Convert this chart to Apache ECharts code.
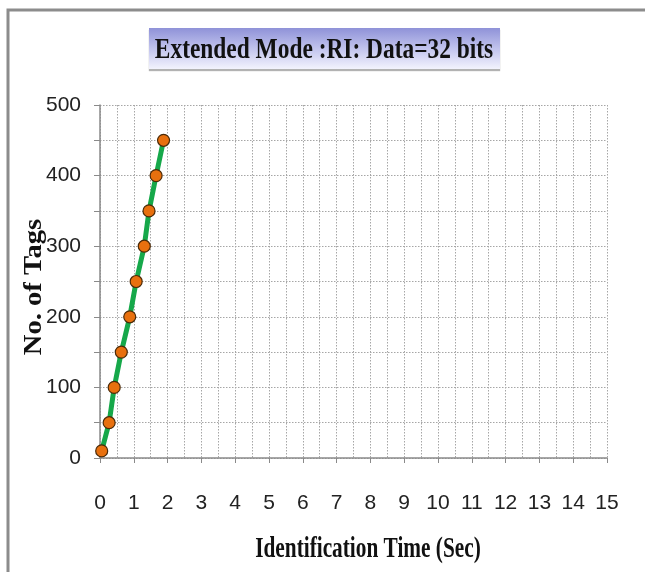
<!DOCTYPE html>
<html>
<head>
<meta charset="utf-8">
<title>Extended Mode :RI: Data=32 bits</title>
<script src="https://cdn.jsdelivr.net/npm/echarts@6/dist/echarts.min.js"></script>
<style>
  html, body { margin: 0; padding: 0; background: #fff; }
  #chart { width: 645px; height: 572px; }
</style>
</head>
<body>
<div id="chart"></div>
<script>
// values
var timeSec = [0.05, 0.27, 0.42, 0.63, 0.88, 1.07, 1.31, 1.45, 1.66, 1.88];
var tags = [10, 50, 100, 150, 200, 250, 300, 350, 400, 450];
var yTickLabels = [0, 100, 200, 300, 400, 500];
var xTickLabels = [0, 1, 2, 3, 4, 5, 6, 7, 8, 9, 10, 11, 12, 13, 14, 15];

var titleText = 'Extended Mode :RI: Data=32 bits';
var xName = 'Identification Time (Sec)';
var yName = 'No. of Tags';

var tickFont = "'Liberation Sans', sans-serif";
var serifFont = "'Liberation Serif', 'DejaVu Serif', serif";

var points = timeSec.map(function (t, i) { return [t, tags[i]]; });

var chart = echarts.init(document.getElementById('chart'));

var dotted = { color: '#a6a6a6', type: [1.5, 1.5], width: 1 };

var options = {
  animation: false,
  grid: {
    left: 100,
    right: 38,
    top: 105,
    bottom: 114
  },
  xAxis: {
    type: 'value',
    min: 0,
    max: 15,
    interval: 1,
    axisLine: { show: true, onZero: false, lineStyle: { color: '#8a8a8a', width: 1.5 } },
    axisTick: { show: true, inside: false, length: 5, lineStyle: { color: '#8a8a8a' } },
    axisLabel: {
      margin: 35,
      color: '#222',
      fontSize: 21,
      fontFamily: tickFont,
      formatter: function (v) {
        return xTickLabels.indexOf(v) >= 0 ? String(v) : '';
      }
    },
    splitLine: { show: true, lineStyle: dotted },
    minorTick: { show: false, splitNumber: 2 },
    minorSplitLine: { show: true, lineStyle: dotted }
  },
  yAxis: {
    type: 'value',
    min: 0,
    max: 500,
    interval: 50,
    axisLine: { show: true, lineStyle: { color: '#8a8a8a', width: 1.5 } },
    axisTick: { show: true, inside: false, length: 6, lineStyle: { color: '#8a8a8a' } },
    axisLabel: {
      margin: 19,
      color: '#222',
      fontSize: 21,
      fontFamily: tickFont,
      formatter: function (v) {
        return yTickLabels.indexOf(v) >= 0 ? String(v) : '';
      }
    },
    splitLine: { show: true, lineStyle: dotted }
  },
  series: [{
    type: 'line',
    data: points,
    symbol: 'circle',
    symbolSize: 12,
    lineStyle: { color: '#16a84a', width: 5 },
    itemStyle: { color: '#e8700e', borderColor: '#4a2a08', borderWidth: 1.2 },
    z: 3
  }],
  graphic: [
    // outer frame
    {
      type: 'polyline',
      shape: { points: [[8, 572], [8, 10], [645, 10]] },
      style: { stroke: '#8c8c8c', lineWidth: 3, fill: null },
      silent: true
    },
    // title box
    {
      type: 'rect',
      shape: { x: 149, y: 28, width: 351, height: 41 },
      style: {
        fill: new echarts.graphic.LinearGradient(0, 0, 0, 1, [
          { offset: 0, color: '#8f92d8' },
          { offset: 0.55, color: '#c6c8ef' },
          { offset: 1, color: '#f3f3fd' }
        ]),
        shadowColor: 'rgba(0,0,0,0.3)',
        shadowBlur: 1,
        shadowOffsetX: 0,
        shadowOffsetY: 2
      },
      silent: true
    },
    {
      type: 'text',
      x: 324,
      y: 50,
      scaleX: 0.78,
      style: {
        text: titleText,
        fontSize: 30,
        fontWeight: 'bold',
        fontFamily: serifFont,
        fill: '#111',
        align: 'center',
        verticalAlign: 'middle'
      },
      silent: true
    },
    {
      type: 'text',
      x: 368,
      y: 549,
      scaleX: 0.71,
      style: {
        text: xName,
        fontSize: 30,
        fontWeight: 'bold',
        fontFamily: serifFont,
        fill: '#111',
        align: 'center',
        verticalAlign: 'middle'
      },
      silent: true
    },
    {
      type: 'text',
      x: 34,
      y: 287,
      rotation: Math.PI / 2,
      scaleX: 1.1,
      style: {
        text: yName,
        fontSize: 26,
        fontWeight: 'bold',
        fontFamily: serifFont,
        fill: '#111',
        align: 'center',
        verticalAlign: 'middle'
      },
      silent: true
    }
  ]
};

chart.setOption(options, true);
window.addEventListener('resize', function () {
  chart.resize();
});
</script>
</body>
</html>
